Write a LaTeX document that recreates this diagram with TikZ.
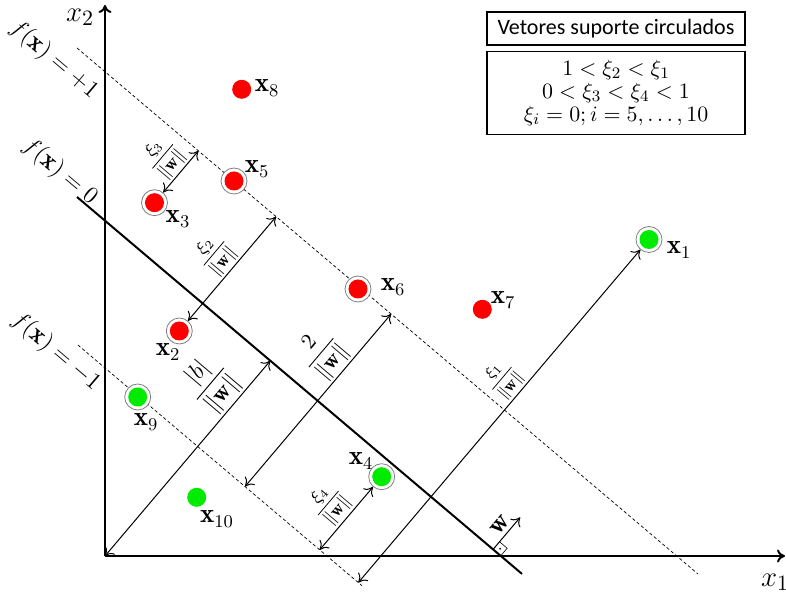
\documentclass[tikz,border=0pt]{standalone}
\usepackage{amsmath,amssymb}
\usepackage{fontspec}
\newfontfamily\calibri{Carlito}
\usepackage{tikz}
\usetikzlibrary{calc,positioning,arrows.meta}
\definecolor{svred}{RGB}{255,0,0}
\definecolor{svgreen}{RGB}{0,235,0}

\begin{document}
\begin{tikzpicture}[x=0.5pt,y=-0.5pt,>={To[length=4pt,width=6.5pt]},
  marg/.style={dash pattern=on 1.6pt off 1.2pt,line width=0.35pt},
  hyper/.style={line width=1pt},
  axis/.style={->,line width=1pt},
  dist/.style={<->,line width=0.5pt},
  pnt/.style={circle,fill=#1,inner sep=0pt,minimum size=9.5pt},
  svpnt/.style={circle,draw=gray,line width=0.4pt,fill=white,inner sep=0pt,minimum size=13pt,
    path picture={\fill[#1] (path picture bounding box.center) circle (4.75pt);}},
  lab/.style={font=\fontsize{13.5}{15}\selectfont,inner sep=0pt},
  frac/.style={font=\fontsize{9}{10}\selectfont,sloped,above,inner sep=1pt},
  flab/.style={font=\fontsize{13}{15}\selectfont,rotate=-40.3,inner sep=0pt},
  box/.style={draw,line width=0.8pt,minimum width=129pt,inner sep=2pt,
    font=\fontsize{11}{11.5}\selectfont,align=center}]
 \useasboundingbox (0,0) rectangle (786,597);
 % margins and separating line
 \coordinate (plusA) at (77,48);
 \coordinate (plusB) at (698,574);
 \coordinate (zeroA) at (77,197);
 \coordinate (zeroB) at (522,573.9);
 \coordinate (minusA) at (78,345.1);
 \coordinate (minusB) at (362,585.7);
 \draw[marg] (plusA)--(plusB);
 \draw[marg] (minusA)--(minusB);
 \draw[hyper] (zeroA)--(zeroB);
 % axes
 \coordinate (O) at (105,556);
 \coordinate (X1) at (785,556);
 \coordinate (X2) at (105,5);
 \draw[axis] (O)--(X1);
 \draw[axis] (O)--(X2);
 \node[lab,font=\fontsize{15}{17}\selectfont] (lx2) at (80,17) {$x_2$};
 \node[lab,font=\fontsize{15}{17}\selectfont] (lx1) at (775,582) {$x_1$};
 % points
 \node[svpnt=svgreen] (x1) at (649,239.5) {};
 \node[svpnt=svred] (x2) at (179.3,331) {};
 \node[svpnt=svred] (x3) at (154.5,202.7) {};
 \node[svpnt=svgreen] (x4) at (381.7,476.7) {};
 \node[svpnt=svred] (x5) at (234,181) {};
 \node[svpnt=svred] (x6) at (358,289) {};
 \node[pnt=svred] (x7) at (482.3,309.3) {};
 \node[pnt=svred] (x8) at (241.7,89.3) {};
 \node[svpnt=svgreen] (x9) at (137.7,397) {};
 \node[pnt=svgreen] (x10) at (196.7,497.3) {};
 \node[lab] (l1) at (679,250) {$\mathbf{x}_1$};
 \node[lab] (l2) at (168,352) {$\mathbf{x}_2$};
 \node[lab] (l3) at (178,219) {$\mathbf{x}_3$};
 \node[lab] (l4) at (361,461) {$\mathbf{x}_4$};
 \node[lab] (l5) at (257,169) {$\mathbf{x}_5$};
 \node[lab] (l6) at (393,287) {$\mathbf{x}_6$};
 \node[lab] (l7) at (503,300) {$\mathbf{x}_7$};
 \node[lab] (l8) at (267,88) {$\mathbf{x}_8$};
 \node[lab] (l9) at (146,422) {$\mathbf{x}_9$};
 \node[lab] (l10) at (217,519) {$\mathbf{x}_{10}$};
 % distances
 \draw[dist] (x3)--($(plusA)!(x3)!(plusB)$)
   node[frac,midway] (f3) {$\dfrac{\xi_3}{\|\mathbf{w}\|}$};
 \draw[dist] (x2)--($(plusA)!(x2)!(plusB)$)
   node[frac,midway] (f2) {$\dfrac{\xi_2}{\|\mathbf{w}\|}$};
 \draw[dist] (O)--($(zeroA)!(O)!(zeroB)$)
   node[frac,pos=0.78,font=\fontsize{12}{14}\selectfont] (fb) {$\dfrac{|b|}{\|\mathbf{w}\|}$};
 \coordinate (m2) at ($(minusA)!0.588!(minusB)$);
 \draw[dist] (m2)--($(plusA)!(m2)!(plusB)$)
   node[frac,pos=0.67,font=\fontsize{11}{13}\selectfont] (fm) {$\dfrac{2}{\|\mathbf{w}\|}$};
 \draw[dist] ($(minusA)!(x4)!(minusB)$)--(x4)
   node[frac,midway] (f4) {$\dfrac{\xi_4}{\|\mathbf{w}\|}$};
 \draw[dist] ($(minusA)!(x1)!(minusB)$)--(x1)
   node[frac,pos=0.57,font=\fontsize{8.5}{10}\selectfont] (f1) {$\dfrac{\xi_1}{\|\mathbf{w}\|}$};
 % normal vector
 \coordinate (wb) at ($(zeroA)!0.935!(zeroB)$);
 \coordinate (wt) at ($(wb)!21pt!90:(zeroB)$);
 \draw[->,line width=0.5pt] (wb)--(wt)
   node[lab,pos=0.55,above,sloped,inner sep=2pt] (wl) {$\mathbf{w}$};
 \coordinate (ra) at ($(wb)!5pt!(zeroB)$);
 \coordinate (rb) at ($(wb)!5pt!90:(zeroB)$);
 \draw[line width=0.3pt] (ra)--($(ra)+(rb)-(wb)$)--(rb);
 \fill ($(ra)!0.5!(rb)$) circle (0.5pt);
 % line labels
 \node[flab] (fp) at (54,60) {$f(\mathbf{x})=+1$};
 \node[flab] (fz) at (60,172) {$f(\mathbf{x})=0$};
 \node[flab] (fn) at (56,352) {$f(\mathbf{x})=-1$};
 % legend
 \node[box,minimum height=16.5pt,font=\calibri\fontsize{11}{13}\selectfont] (vbox) at (616,28.5) {Vetores suporte circulados};
 \node[box,minimum height=41.5pt,below=2.5pt of vbox] (xibox)
   {$1<\xi_2<\xi_1$\\ $0<\xi_3<\xi_4<1$\\ $\xi_i=0; i=5,\ldots,10$};
\end{tikzpicture}
\end{document}
